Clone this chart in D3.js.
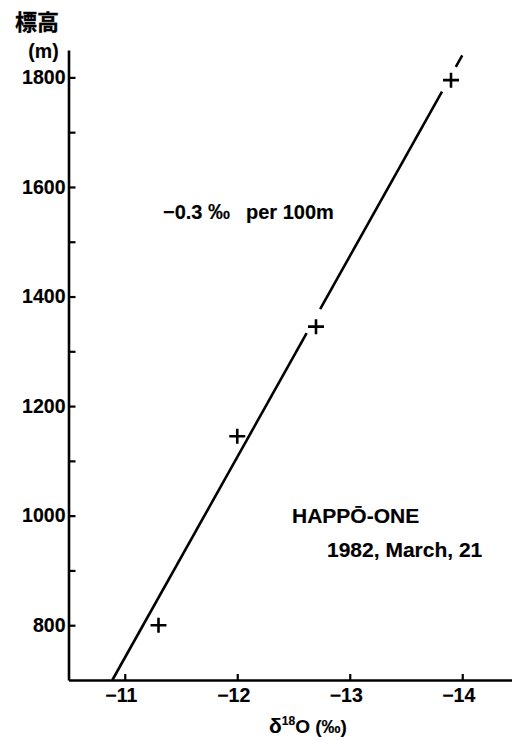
<!DOCTYPE html>
<html>
<head>
<meta charset="utf-8">
<script src="https://cdn.jsdelivr.net/npm/d3@7"></script>
<style>
  html, body { margin: 0; padding: 0; background: #fff; }
  svg { display: block; }
  text { font-family: "Liberation Sans", Arial, sans-serif; font-weight: 700; fill: #000; stroke: #000; stroke-width: 0.15px; }
  .cjk { font-family: "Noto Sans CJK JP", "Noto Sans CJK SC", sans-serif; font-weight: 700; stroke-width: 0.3px; }
</style>
</head>
<body>
<svg id="chart" width="512" height="742"></svg>
<script>
// Snow-pack sample altitudes (m) and their oxygen isotope ratios (‰)
const sampleElev  = [800, 1145, 1345, 1795];
const sampleDelta = [-11.3, -12.0, -12.7, -13.9];

// Hand-fitted altitude effect line: two end points (elevation, δ18O)
const fitElev  = [700, 1840];
const fitDelta = [-10.89, -14.0];
// Stretches of the fit line that are inked (broken around two markers)
const fitRuns = [[700, 1333], [1377, 1774], [1819, 1840]];

// Axis ticks
const elevTicks  = [800, 1000, 1200, 1400, 1600, 1800];
const elevMinor  = [900, 1100, 1300, 1500, 1700];
const deltaTicks = [-11, -12, -13, -14];

const svg = d3.select("#chart");

const y = d3.scaleLinear().domain([700, 1850]).range([680, 50]);
const x = d3.scaleLinear().domain([-10.5, -14.5]).range([68.5, 518.5]);

const fmt = d => d3.format("d")(d).replace("-", "\u2212");

// y axis: major + minor ticks pointing inward
const yAxis = svg.append("g").attr("transform", "translate(68.5,0)")
  .call(d3.axisLeft(y).tickValues(elevTicks.concat(elevMinor).sort((a, b) => a - b))
    .tickSizeInner(-7).tickSizeOuter(0).tickPadding(3)
    .tickFormat(d => elevTicks.includes(d) ? String(d) : ""));
yAxis.select(".domain").attr("stroke-width", 2.6);
yAxis.selectAll(".tick line").attr("stroke-width", 2.2);
yAxis.selectAll(".tick text").attr("font-size", 19.5).attr("font-family", null);

// x axis
const xAxis = svg.append("g").attr("transform", "translate(0,680)")
  .call(d3.axisBottom(x).tickValues(deltaTicks)
    .tickSizeInner(-6).tickSizeOuter(0).tickPadding(8).tickFormat(fmt));
xAxis.select(".domain").attr("stroke-width", 2.6);
xAxis.selectAll(".tick line").attr("stroke-width", 2.2);
xAxis.selectAll(".tick text").attr("font-size", 19.5).attr("font-family", null).attr("dx", -4);
svg.selectAll(".domain, .tick line").attr("stroke", "#000");

// Fit line, drawn in the inked runs
const fitAt = h => fitDelta[0] + (h - fitElev[0]) * (fitDelta[1] - fitDelta[0]) / (fitElev[1] - fitElev[0]);
const line = d3.line().x(d => x(fitAt(d))).y(d => y(d));
svg.append("g").selectAll("path").data(fitRuns).join("path")
  .attr("d", r => line(r))
  .attr("fill", "none").attr("stroke", "#000").attr("stroke-width", 2.6);

// Sample markers (+)
svg.append("g").selectAll("path").data(sampleElev.map((e, i) => [sampleDelta[i], e])).join("path")
  .attr("transform", d => `translate(${x(d[0])},${y(d[1])})`)
  .attr("d", "M-8,0H8M0,-7.5V7.5")
  .attr("fill", "none").attr("stroke", "#000").attr("stroke-width", 2.6);

// Axis titles
svg.append("text").attr("class", "cjk").attr("x", 37).attr("y", 30)
  .attr("text-anchor", "middle").attr("font-size", 22).text("標高");
svg.append("text").attr("x", 43.5).attr("y", 58)
  .attr("text-anchor", "middle").attr("font-size", 19.5).text("(m)");

const xt = svg.append("text").attr("x", 308).attr("y", 733)
  .attr("text-anchor", "middle").attr("font-size", 19);
xt.append("tspan").attr("font-size", 21).text("δ");
xt.append("tspan").attr("font-size", 12).attr("dy", -8).text("18");
xt.append("tspan").attr("dy", 8).text("O (‰)");

// Annotations
const ann = svg.append("text").attr("y", 219).attr("font-size", 20);
ann.append("tspan").attr("x", 163).text("\u22120.3");
ann.append("tspan").attr("x", 208).attr("font-size", 22).text("‰");
ann.append("tspan").attr("x", 246).text("per 100m");

svg.append("text").attr("x", 292).attr("y", 523).attr("font-size", 21).text("HAPPŌ-ONE");
svg.append("text").attr("x", 327).attr("y", 557).attr("font-size", 21).text("1982, March, 21");
</script>
</body>
</html>
